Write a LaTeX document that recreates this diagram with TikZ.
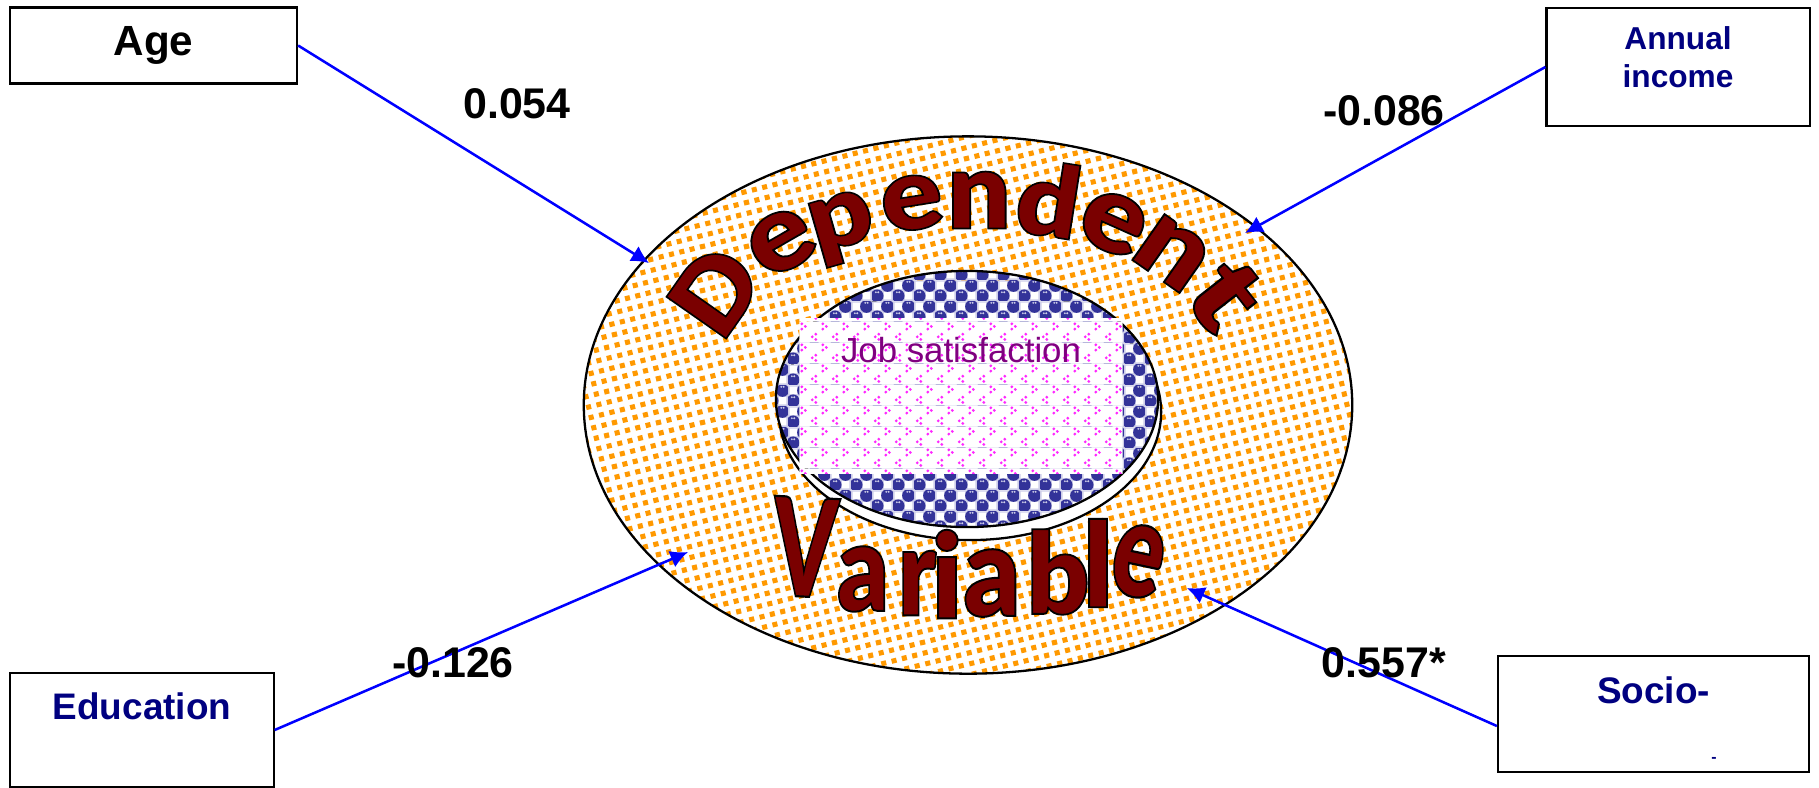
\documentclass[tikz,border=0pt]{standalone}
\usepackage{fontspec}
\usepackage{graphicx}
\setmainfont{Liberation Sans}
\newfontface\wordFace[FakeBold=1.6]{Lato Black}
\usetikzlibrary{arrows.meta,shapes.geometric,patterns}
\definecolor{boxNavy}{RGB}{0,0,128}
\definecolor{wordRed}{RGB}{122,0,0}
\definecolor{jobPurple}{RGB}{128,0,128}
\definecolor{ballBlue}{RGB}{51,51,153}
\definecolor{ballHaze}{RGB}{205,205,232}
\definecolor{dotOrange}{RGB}{255,153,0}
\definecolor{dotPink}{RGB}{255,40,255}
\newcommand{\tileDot}[3]{\pgfpathcircle{\pgfpoint{#1*0.2845pt}{#2*0.2845pt}}{#3*0.2845pt}}
\newcommand{\tileSquare}[2]{%
  \begin{pgfscope}
    \pgftransformshift{\pgfpoint{(#1)*0.2845pt}{(#2)*0.2845pt}}
    \pgftransformrotate{14}
    \pgfpathrectangle{\pgfpoint{-0.72pt}{-0.72pt}}{\pgfpoint{1.44pt}{1.44pt}}
    \pgfusepath{fill}
  \end{pgfscope}}
\newcommand{\tileWhite}{%
  \pgfsetfillcolor{white}
  \pgfpathrectangle{\pgfpointorigin}{\pgfpoint{6.06pt}{6.06pt}}
  \pgfusepath{fill}}
\pgfdeclarepatterninherentlycolored{orangeDots}{\pgfpointorigin}{\pgfpoint{12.48pt}{12.48pt}}{\pgfpoint{12.48pt}{12.48pt}}{%
  \pgfsetfillcolor{white}
  \pgfpathrectangle{\pgfpointorigin}{\pgfpoint{12.48pt}{12.48pt}}
  \pgfusepath{fill}
  \pgfsetfillcolor{dotOrange}
  \foreach \i in {0,...,16} {
    \pgfmathsetmacro{\tilex}{3.2+2.58*mod(4*\i,17)}
    \pgfmathsetmacro{\tiley}{3.2+2.58*\i}
    \tileSquare{\tilex}{\tiley}
    \tileSquare{\tilex-43.86}{\tiley}
    \tileSquare{\tilex}{\tiley-43.86}
  }}
\pgfdeclarepatterninherentlycolored{blueBalls}{\pgfpointorigin}{\pgfpoint{6.06pt}{6.06pt}}{\pgfpoint{6.06pt}{6.06pt}}{%
  \pgfsetfillcolor{ballHaze}
  \pgfpathrectangle{\pgfpointorigin}{\pgfpoint{6.06pt}{6.06pt}}
  \pgfusepath{fill}
  \pgfsetfillcolor{white}
  \pgfpathrectangle{\pgfpoint{3.45pt}{0.45pt}}{\pgfpoint{2.2pt}{2.2pt}}
  \pgfpathrectangle{\pgfpoint{0.45pt}{3.45pt}}{\pgfpoint{2.2pt}{2.2pt}}
  \pgfusepath{fill}
  \pgfsetfillcolor{ballBlue}
  \tileDot{5.3}{5.3}{6.6}
  \tileDot{16}{16}{6.6}
  \pgfusepath{fill}
  \pgfsetfillcolor{ballHaze}
  \tileDot{4}{9}{1.1}
  \tileDot{6.5}{9}{1.1}
  \tileDot{14.7}{19.7}{1.1}
  \tileDot{17.2}{19.7}{1.1}
  \pgfusepath{fill}}
\pgfdeclarepatterninherentlycolored{pinkChevrons}{\pgfpointorigin}{\pgfpoint{6.06pt}{6.06pt}}{\pgfpoint{6.06pt}{6.06pt}}{%
  \tileWhite
  \pgfsetfillcolor{dotPink}
  \tileDot{7}{8}{1.6}
  \tileDot{3.4}{5.3}{1.6}
  \tileDot{7}{2.6}{1.6}
  \tileDot{14.3}{18.7}{1.6}
  \tileDot{17.9}{16}{1.6}
  \tileDot{14.3}{13.3}{1.6}
  \pgfusepath{fill}}
\tikzset{
    factorBox/.style={
        draw,
        line width=0.6pt,
        fill=white,
        align=center,
        inner sep=0pt,
        text=boxNavy,
        font=\fontsize{10.5}{13.6}\selectfont\bfseries
    },
    pathValue/.style={
        inner sep=0pt,
        font=\fontsize{12.2}{14}\selectfont\bfseries
    },
    pathArrow/.style={
        -{Latex[length=5pt,width=5pt]},
        blue,
        line width=0.72pt
    },
    ringEllipse/.style={
        draw,
        ellipse,
        line width=0.65pt,
        inner sep=0pt
    },
    wordLetter/.style={
        inner sep=0pt,
        text=wordRed,
        font=\fontsize{28.45}{30}\selectfont\wordFace
    }
}
\begin{document}
\begin{tikzpicture}[x=0.01cm,y=-0.01cm]
    \useasboundingbox (0,0) rectangle (1819,787);

    \node[ringEllipse,pattern=orangeDots,minimum width=7.68cm,minimum height=5.37cm] (outerRing) at (968,405) {};
    \node[ringEllipse,fill=white,minimum width=3.82cm,minimum height=2.56cm] (innerShadow) at (970,412) {};
    \node[ringEllipse,pattern=blueBalls,minimum width=3.82cm,minimum height=2.56cm] (innerRing) at (967,399) {};
    \node[pattern=pinkChevrons,minimum width=3.23cm,minimum height=1.55cm,inner sep=0pt] (jobBox) at (961,396) {};
    \node[inner sep=0pt,text=jobPurple,font=\fontsize{9.9}{12}\selectfont] (jobText) at (961,350) {Job satisfaction};

    \foreach \idx/\glyph/\posx/\posy/\rot/\sx/\sy in {
        1/D/715/291/55/1.05/1.0, 2/e/781/242/30/1.2/1.08, 3/p/843/228/16/1.12/0.98,
        4/e/912/203/9/1.15/1.02, 5/n/979/200/0/1.12/1.08, 6/d/1049/199/-9/1.1/1.0,
        7/e/1113/223/-24/1.2/1.08, 8/n/1172/253/-35/1.22/1.08, 9/t/1225/295/-52/1.4/1.08,
        10/V/805/547/-3/0.9/1.36, 11/a/863/579/0/1.0/1.22, 12/r/917/583/0/1.0/1.22,
        13/i/947/574/0/1.15/1.18, 14/a/992/583/0/1.1/1.26, 15/b/1058/572/0/1.1/1.13,
        16/l/1098/563/0/1.15/1.18, 17/e/1138/561/-12/0.95/1.36} {
        \node[wordLetter,rotate=\rot] (letter\idx) at (\posx,\posy) {\scalebox{\sx}[\sy]{\pgfsetstrokecolor{black}\glyph}};
    }

    \node[factorBox,font=\fontsize{12}{14}\selectfont\bfseries,text=black,minimum width=2.87cm,minimum height=0.76cm] (age) at (153.5,45.5) {Age};
    \node[factorBox,font=\fontsize{9}{10.8}\selectfont\bfseries,minimum width=2.63cm,minimum height=1.18cm] (income) at (1678,67) {Annual\\income\\[-5.1pt]\mbox{}};
    \node[factorBox,minimum width=2.63cm,minimum height=1.14cm] (education) at (142,730) {Education\\\mbox{}};
    \node[factorBox,minimum width=3.11cm,minimum height=1.16cm] (socio) at (1653.5,714) {Socio-\\\mbox{}};
    \node[inner sep=0pt,text=boxNavy,font=\fontsize{4.5}{5}\selectfont\bfseries] (socioDash) at (1714,760) {-};

    \coordinate (ageEnd) at (649,263);
    \coordinate (incomeEnd) at (1245,233);
    \coordinate (educationEnd) at (688,552);
    \coordinate (socioEnd) at (1187,588);

    \draw[pathArrow] (age.east) -- (ageEnd);
    \draw[pathArrow] (income.west) -- (incomeEnd);
    \draw[pathArrow] (education.east) -- (educationEnd);
    \draw[pathArrow] ([yshift=-0.12cm]socio.west) -- (socioEnd);

    \node[pathValue] (ageValue) at (517,104) {0.054};
    \node[pathValue] (incomeValue) at (1384,111) {-0.086};
    \node[pathValue] (educationValue) at (453,663) {-0.126};
    \node[pathValue] (socioValue) at (1384,663) {0.557*};
\end{tikzpicture}
\end{document}
